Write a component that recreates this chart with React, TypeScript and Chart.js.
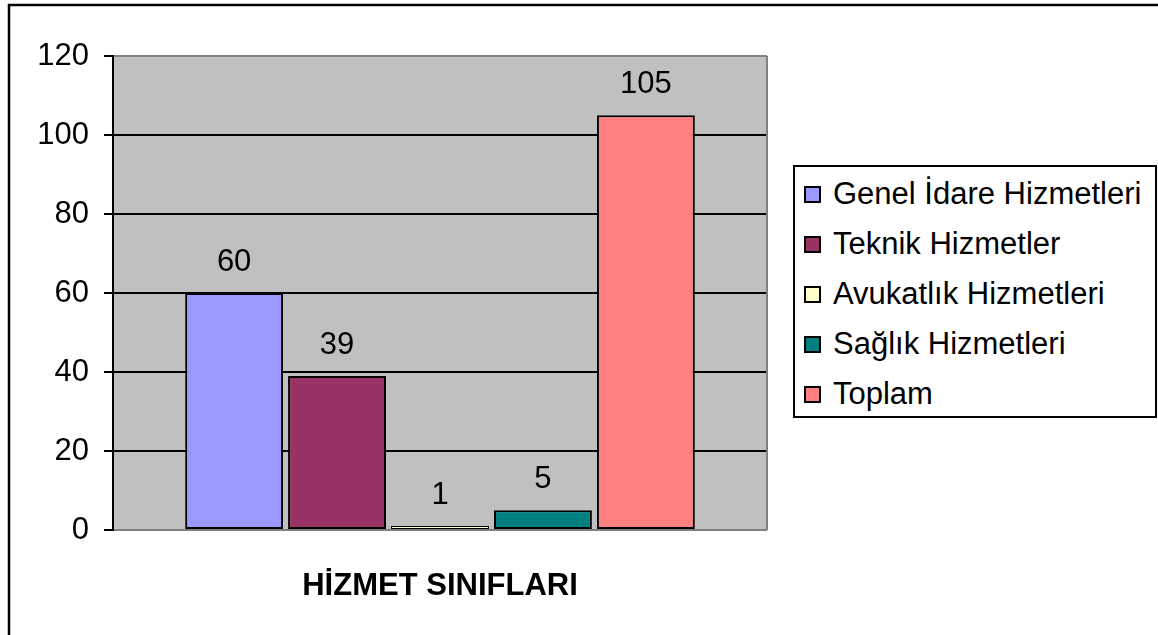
import React, { useEffect, useRef } from "react";
import { Chart, registerables } from "chart.js";

Chart.register(...registerables);

const categories = ["HİZMET SINIFLARI"];
const seriesNames = [
  "Genel İdare Hizmetleri",
  "Teknik Hizmetler",
  "Avukatlık Hizmetleri",
  "Sağlık Hizmetleri",
  "Toplam",
];
const seriesValues = [60, 39, 1, 5, 105];
const seriesColors = ["#9999FF", "#993366", "#FFFFCC", "#008080", "#FF8080"];
const yTicks = [0, 20, 40, 60, 80, 100, 120];

const FONT = "'Liberation Sans', Arial, Helvetica, sans-serif";
const FS = 31;

const framePlugin = {
  id: "framePlugin",
  beforeDraw(chart: any) {
    const { ctx, chartArea } = chart;
    ctx.save();
    ctx.fillStyle = "#FFFFFF";
    ctx.fillRect(0, 0, chart.width, chart.height);
    ctx.fillStyle = "#C0C0C0";
    ctx.fillRect(chartArea.left, chartArea.top, chartArea.right - chartArea.left, chartArea.bottom - chartArea.top);
    ctx.strokeStyle = "#000000";
    ctx.lineWidth = 2.5;
    ctx.strokeRect(9, 5, chart.width + 50, chart.height + 50);
    ctx.restore();
  },
  beforeDatasetsDraw(chart: any) {
    const { ctx, chartArea } = chart;
    ctx.save();
    ctx.strokeStyle = "#808080";
    ctx.lineWidth = 2;
    ctx.beginPath();
    ctx.moveTo(chartArea.right, chartArea.top);
    ctx.lineTo(chartArea.right, chartArea.bottom);
    ctx.stroke();
    ctx.restore();
  },
};

const valueLabels = {
  id: "valueLabels",
  afterDatasetsDraw(chart: any) {
    const ctx = chart.ctx;
    ctx.save();
    ctx.font = `${FS}px ${FONT}`;
    ctx.fillStyle = "#000000";
    ctx.textAlign = "center";
    ctx.textBaseline = "alphabetic";
    chart.data.datasets.forEach((ds: any, i: number) => {
      const meta = chart.getDatasetMeta(i);
      meta.data.forEach((el: any, j: number) => {
        ctx.fillText(String(ds.data[j]), el.x, el.y - 22);
      });
    });
    ctx.restore();
  },
};

export default function App() {
  const ref = useRef<HTMLCanvasElement | null>(null);

  useEffect(() => {
    if (!ref.current) return;
    Chart.defaults.font.family = FONT;
    const chart = new Chart(ref.current, {
      type: "bar",
      data: {
        labels: categories,
        datasets: seriesNames.map((name, i) => ({
          label: name,
          data: [seriesValues[i]],
          backgroundColor: seriesColors[i],
          borderColor: "#000000",
          borderWidth: seriesValues[i] < 3 ? 1 : 2,
          borderSkipped: false,
          categoryPercentage: 0.787,
          barPercentage: 0.951,
        })),
      },
      options: {
        responsive: false,
        animation: false,
        layout: { padding: { left: 0, top: 56, right: 391, bottom: 0 } },
        plugins: {
          legend: { display: false },
          tooltip: { enabled: false },
        },
        scales: {
          x: {
            grid: { display: false },
            border: { display: false },
            ticks: {
              color: "#000000",
              font: { size: FS, weight: "bold", family: FONT },
              padding: 30,
              maxRotation: 0,
            },
            afterFit(scale: any) {
              scale.height = 105;
            },
          },
          y: {
            min: 0,
            max: 120,
            afterBuildTicks(scale: any) {
              scale.ticks = yTicks.map((v) => ({ value: v }));
            },
            grid: {
              color: (c: any) =>
                c.tick && (c.tick.value === 0 || c.tick.value === 120) ? "#808080" : "#000000",
              lineWidth: 2,
              tickLength: 9,
              tickColor: "#000000",
              tickWidth: 2,
            },
            border: { display: true, color: "#000000", width: 2 },
            ticks: {
              color: "#000000",
              font: { size: FS, family: FONT },
              padding: 15,
            },
            afterFit(scale: any) {
              scale.width = 113;
            },
          },
        },
      },
      plugins: [framePlugin, valueLabels],
    } as any);
    return () => chart.destroy();
  }, []);

  return (
    <div style={{ position: "absolute", left: 0, top: 0, width: 1158, height: 635, overflow: "hidden", background: "#fff" }}>
      <canvas ref={ref} width={1158} height={635} style={{ width: 1158, height: 635, display: "block" }} />
      <div
        style={{
          position: "absolute",
          left: 793,
          top: 165,
          width: 364,
          height: 253,
          boxSizing: "border-box",
          border: "2px solid #000",
          background: "#fff",
          paddingTop: 2,
          fontFamily: FONT,
          fontSize: FS,
          color: "#000",
        }}
      >
        {seriesNames.map((name, i) => (
          <div key={name} style={{ display: "flex", alignItems: "center", height: 50, whiteSpace: "nowrap" }}>
            <span
              style={{
                display: "inline-block",
                width: 17,
                height: 17,
                boxSizing: "border-box",
                border: "2px solid #000",
                background: seriesColors[i],
                marginLeft: 9,
                marginRight: 12,
                flexShrink: 0,
              }}
            />
            <span>{name}</span>
          </div>
        ))}
      </div>
    </div>
  );
}
